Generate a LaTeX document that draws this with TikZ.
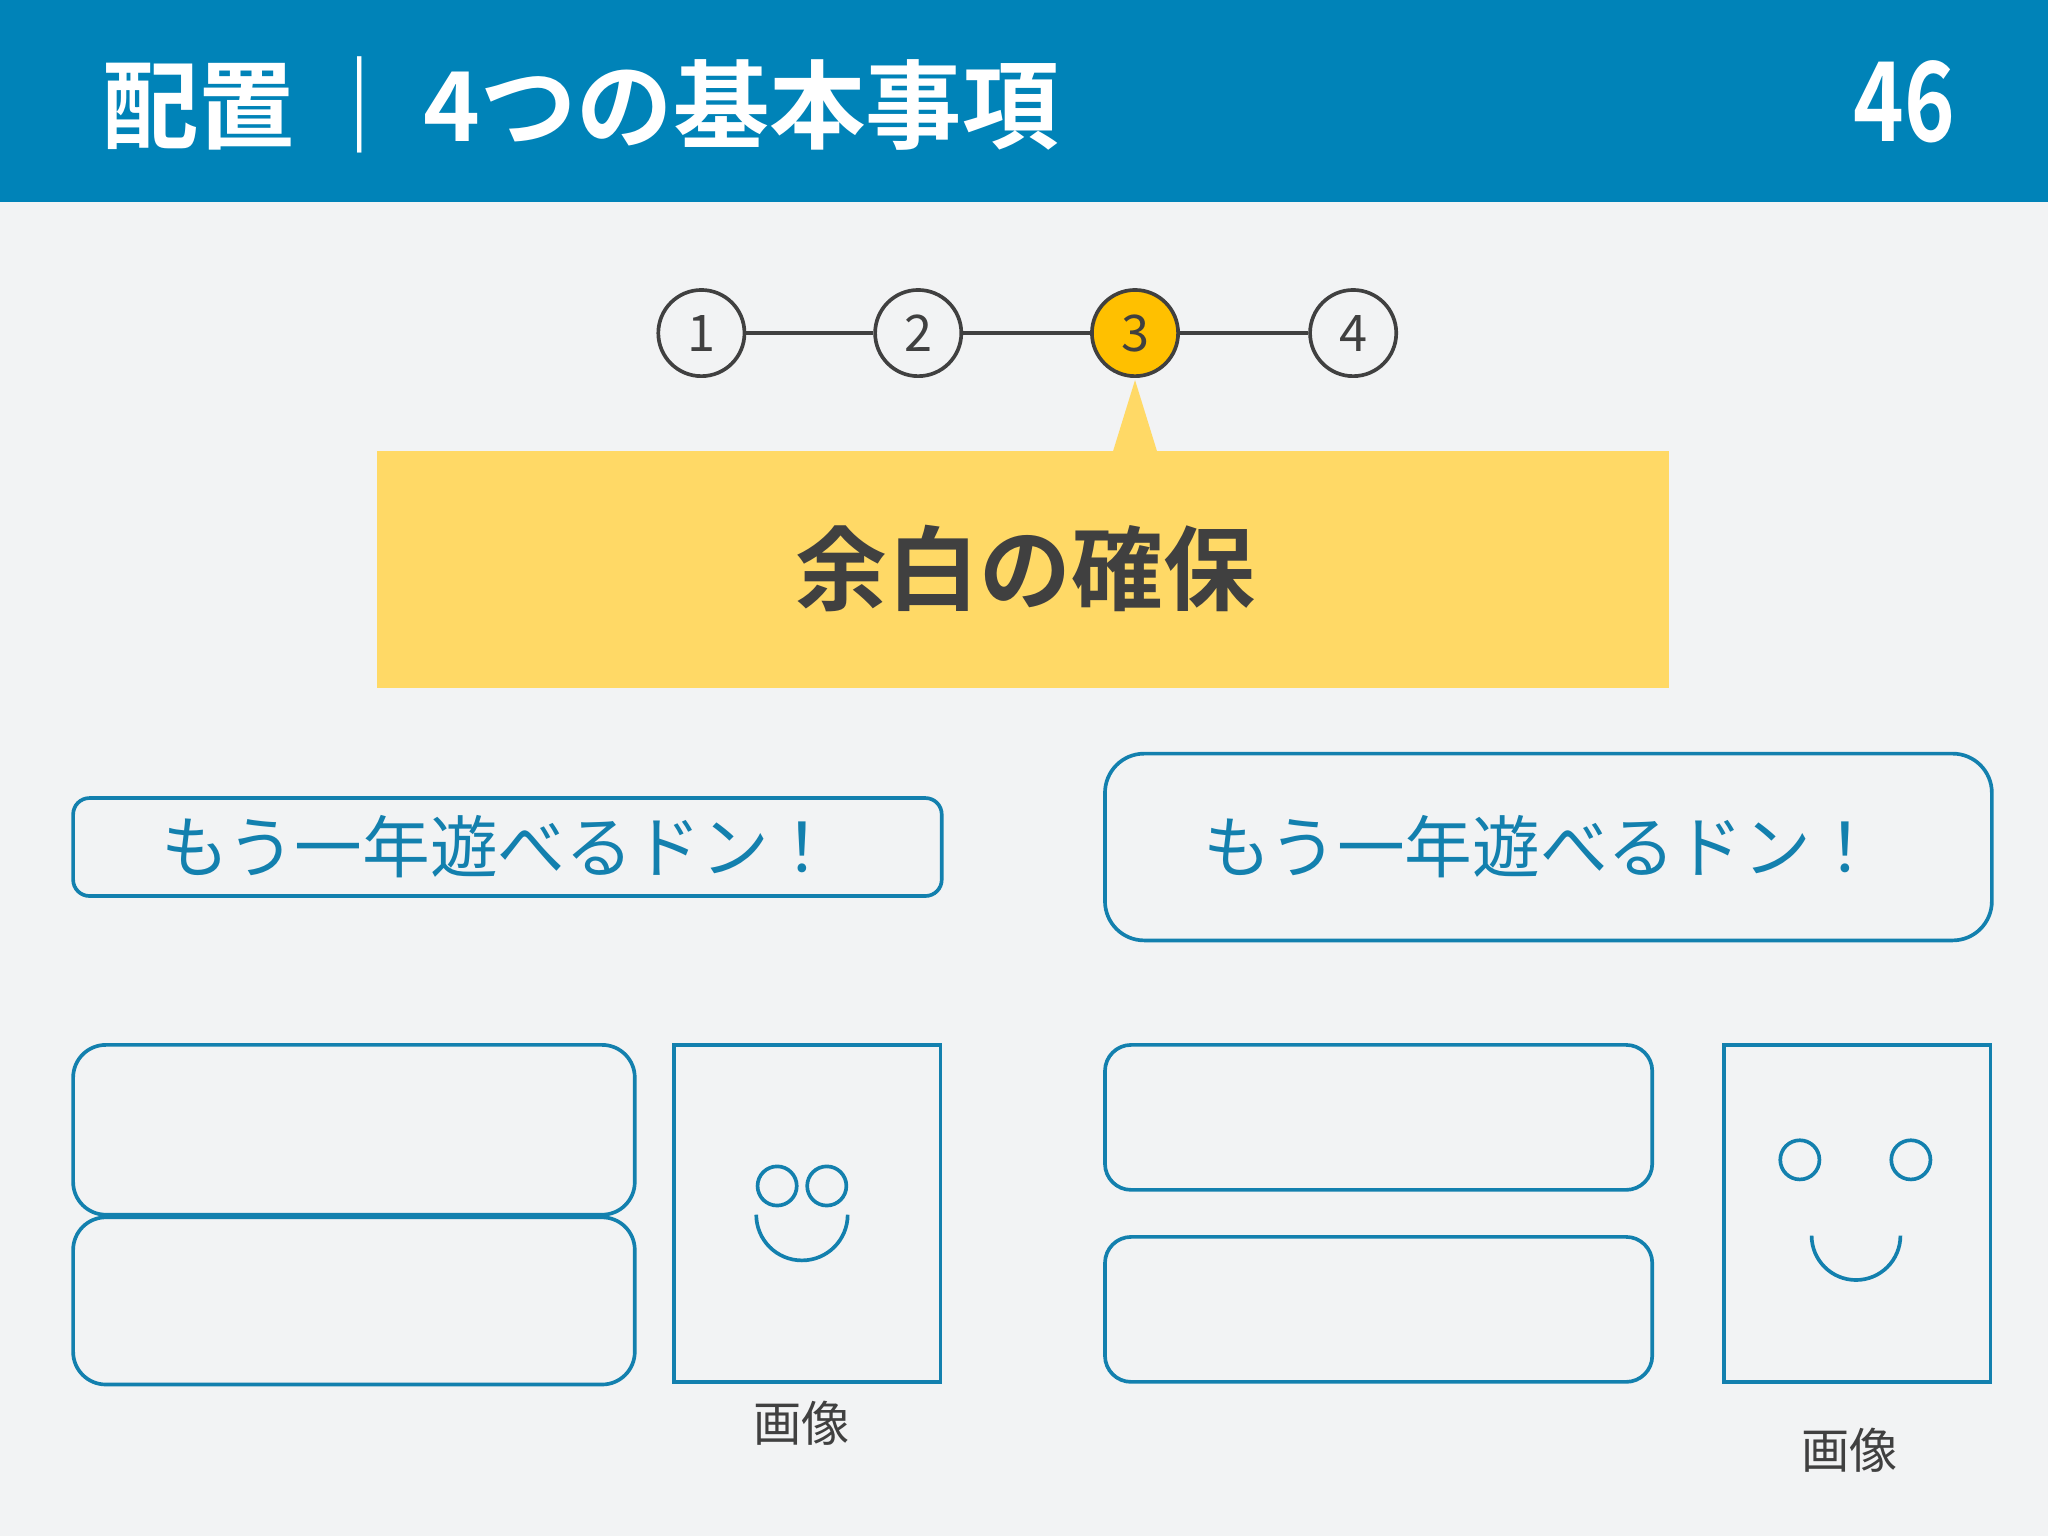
\documentclass[tikz,border=0pt]{standalone}
\usepackage{fontspec}
\setmainfont{Noto Sans CJK JP}
\newfontfamily\jpb{Noto Sans CJK JP Bold}
\definecolor{hdr}{HTML}{0083B8}
\definecolor{bg}{HTML}{F2F3F4}
\definecolor{gry}{HTML}{404040}
\definecolor{ylw}{HTML}{FFD966}
\definecolor{org}{HTML}{FFC000}
\definecolor{blu}{HTML}{1380AE}
\begin{document}
\begin{tikzpicture}[x=0.02cm,y=-0.02cm,
  stepc/.style={circle,draw=gry,line width=1.6pt,minimum size=1.32cm,inner sep=0pt,fill=bg,font=\fontsize{22}{24}\selectfont,text=gry},
  bbox/.style={draw=blu,line width=1.6pt},
  frame/.style={draw=blu,line width=1.6pt}]
\fill[bg] (0,0) rectangle (1568,1176);
\useasboundingbox (0,0) rectangle (1568,1176);
\fill[hdr] (0,0) rectangle (1568,155);
\node[anchor=west,text=white,font=\jpb\fontsize{42}{46}\selectfont,inner sep=0pt] (title) at (78,80) {配置\,｜\,4つの基本事項};
\node[text=white,font=\jpb\fontsize{48}{50}\selectfont,xscale=0.78] (num) at (1458,78) {46};
\node[stepc] (s1) at (537,255) {1};
\node[stepc] (s2) at (703,255) {2};
\node[stepc,fill=org] (s3) at (869,255) {3};
\node[stepc] (s4) at (1036,255) {4};
\draw[gry,line width=1.6pt] (s1)--(s2) (s2)--(s3) (s3)--(s4);
\fill[ylw] (289,345) rectangle (1278,527);
\fill[ylw] (852,346) -- (869,291) -- (886,346) -- cycle;
\node[text=gry,font=\jpb\fontsize{40}{44}\selectfont] (cap) at (785,435) {余白の確保};
\draw[bbox,rounded corners=0.25cm] (56,611) rectangle (721,686);
\node[text=blu,font=\fontsize{29.5}{32}\selectfont] (t1) at (382,648) {もう一年遊べるドン！};
\draw[bbox,rounded corners=0.6cm] (846,577) rectangle (1525,720);
\node[text=blu,font=\fontsize{29.5}{32}\selectfont] (t2) at (1180,648) {もう一年遊べるドン！};
\draw[bbox,rounded corners=0.5cm] (56,800) rectangle (486,930);
\draw[bbox,rounded corners=0.5cm] (56,932) rectangle (486,1060);
\draw[frame] (516,800) rectangle (720,1058);
\draw[frame] (595,908) circle[radius=15] (633,908) circle[radius=15];
\draw[frame] (579,930) arc[start angle=180,end angle=0,radius=35];
\node[text=gry,font=\fontsize{21}{24}\selectfont] (l1) at (614,1090) {画像};
\draw[bbox,rounded corners=0.4cm] (846,800) rectangle (1265,911);
\draw[bbox,rounded corners=0.4cm] (846,947) rectangle (1265,1058);
\draw[frame] (1320,800) rectangle (1524,1058);
\draw[frame] (1378,888) circle[radius=15] (1463,888) circle[radius=15];
\draw[frame] (1387,946) arc[start angle=180,end angle=0,radius=34];
\node[text=gry,font=\fontsize{21}{24}\selectfont] (l2) at (1416,1110) {画像};
\end{tikzpicture}
\end{document}
